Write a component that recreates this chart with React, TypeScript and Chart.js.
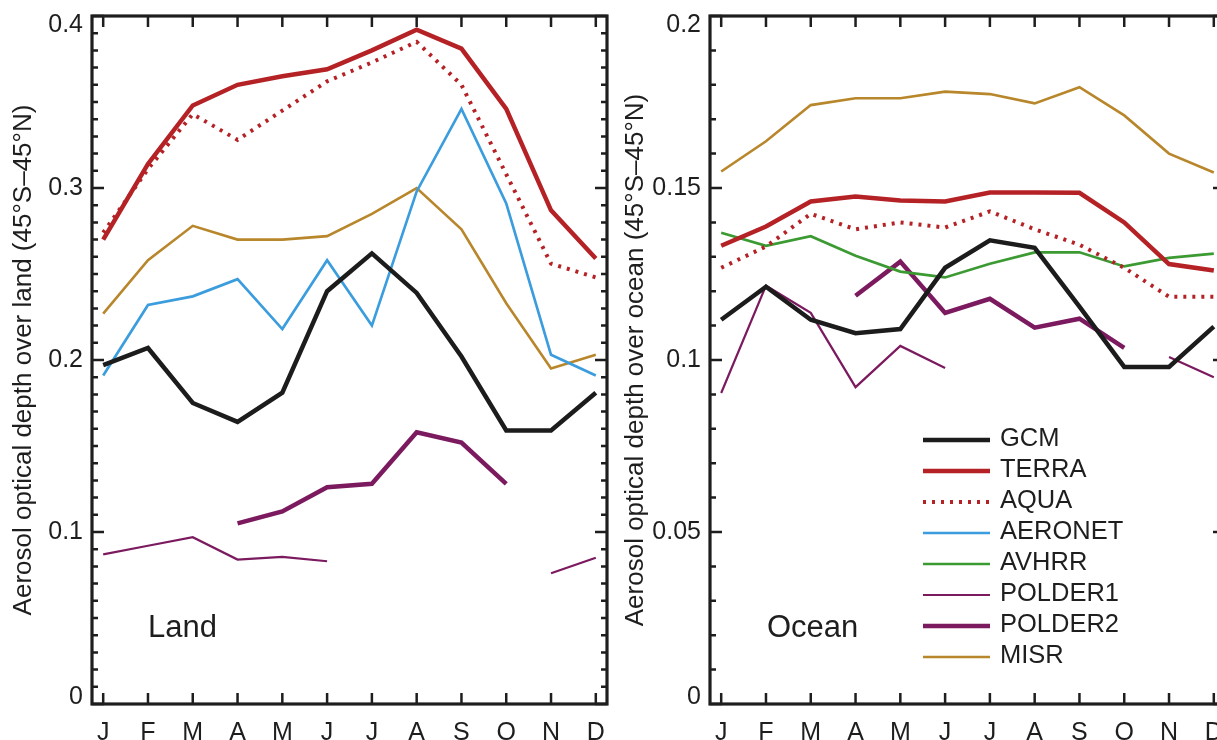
import React, { useEffect, useRef } from "react";
import { Chart, registerables } from "chart.js";

Chart.register(...registerables);

// ---------- data ----------
const months = ["J", "F", "M", "A", "M", "J", "J", "A", "S", "O", "N", "D"];

const seriesNames = ["GCM", "TERRA", "AQUA", "AERONET", "AVHRR", "POLDER1", "POLDER2", "MISR"];

// Land (45S-45N)
const landGCM = [0.197, 0.207, 0.175, 0.164, 0.181, 0.24, 0.262, 0.239, 0.202, 0.159, 0.159, 0.181];
const landTERRA = [0.27, 0.314, 0.348, 0.36, 0.365, 0.369, 0.38, 0.392, 0.381, 0.346, 0.287, 0.259];
const landAQUA = [0.274, 0.311, 0.343, 0.328, 0.345, 0.362, 0.373, 0.385, 0.36, 0.308, 0.256, 0.248];
const landAERONET = [0.191, 0.232, 0.237, 0.247, 0.218, 0.258, 0.22, 0.298, 0.346, 0.291, 0.203, 0.191];
const landPOLDER1 = [0.087, 0.092, 0.097, 0.084, 0.0855, 0.083, null, null, null, null, 0.076, 0.085];
const landPOLDER2 = [null, null, null, 0.105, 0.112, 0.126, 0.128, 0.158, 0.152, 0.128, null, null];
const landMISR = [0.227, 0.258, 0.278, 0.27, 0.27, 0.272, 0.285, 0.3, 0.276, 0.233, 0.195, 0.203];

// Ocean (45S-45N)
const oceanGCM = [0.1117, 0.1213, 0.1117, 0.1078, 0.109, 0.1268, 0.1348, 0.1326, 0.1155, 0.098, 0.098, 0.1097];
const oceanTERRA = [0.1332, 0.1388, 0.1461, 0.1475, 0.1464, 0.1461, 0.1487, 0.1487, 0.1486, 0.14, 0.1279, 0.126];
const oceanAQUA = [0.1268, 0.133, 0.1425, 0.138, 0.14, 0.1385, 0.1432, 0.138, 0.1335, 0.1268, 0.1184, 0.1184];
const oceanAVHRR = [0.137, 0.1332, 0.136, 0.1303, 0.1257, 0.124, 0.128, 0.1313, 0.1313, 0.1272, 0.1297, 0.1309];
const oceanPOLDER1 = [0.0904, 0.1216, 0.1137, 0.0921, 0.1041, 0.0977, null, null, null, null, 0.1009, 0.095];
const oceanPOLDER2 = [null, null, null, 0.1187, 0.1286, 0.1137, 0.1178, 0.1094, 0.112, 0.1035, null, null];
const oceanMISR = [0.1548, 0.1636, 0.1741, 0.1761, 0.1761, 0.178, 0.1773, 0.1746, 0.1793, 0.1711, 0.16, 0.1545];

// axis ticks
const landYTicks = [0, 0.1, 0.2, 0.3, 0.4];
const landYLabels = ["0", "0.1", "0.2", "0.3", "0.4"];
const oceanYTicks = [0, 0.05, 0.1, 0.15, 0.2];
const oceanYLabels = ["0", "0.05", "0.1", "0.15", "0.2"];

// ---------- styles ----------
const FONT = "'Liberation Sans', Arial, Helvetica, sans-serif";
const INK = "#1e1e1e";

const styleOf: Record<string, { color: string; width: number; dash?: number[] }> = {
  GCM: { color: "#1c1c1c", width: 4.5 },
  TERRA: { color: "#b52226", width: 4.5 },
  AQUA: { color: "#b52226", width: 4, dash: [3, 6] },
  AERONET: { color: "#3b9ddd", width: 2.7 },
  AVHRR: { color: "#3c9a33", width: 2.7 },
  POLDER1: { color: "#7b1a5e", width: 2.2 },
  POLDER2: { color: "#7b1a5e", width: 4.5 },
  MISR: { color: "#b8862b", width: 2.6 },
};

function makeDataset(name: string, values: (number | null)[]) {
  const s = styleOf[name];
  return {
    label: name,
    data: values.map((v, i) => ({ x: i, y: v })),
    borderColor: s.color,
    backgroundColor: s.color,
    borderWidth: s.width,
    borderDash: s.dash || [],
    borderCapStyle: "butt" as const,
    borderJoinStyle: "miter" as const,
    pointRadius: 0,
    tension: 0,
    fill: false,
    spanGaps: false,
  };
}

type PanelCfg = {
  yMax: number;
  yTicks: number[];
  yLabels: string[];
  minorStep: number;
  title: string;
  titleX: number;
  panelLabel: string;
  panelX: number;
  legend: boolean;
  legendOffset: number;
};

function makePanelPlugin(p: PanelCfg) {
  return {
    id: "panelDecor",
    afterDatasetsDraw(chart: any) {
      const { ctx, chartArea: a, scales } = chart;
      const xs = scales.x;
      const ys = scales.y;
      ctx.save();
      ctx.strokeStyle = INK;
      ctx.fillStyle = INK;
      ctx.lineCap = "butt";

      // inward ticks
      ctx.lineWidth = 2.5;
      ctx.beginPath();
      months.forEach((_, i) => {
        const px = xs.getPixelForValue(i);
        ctx.moveTo(px, a.top);
        ctx.lineTo(px, a.top + 11);
        ctx.moveTo(px, a.bottom);
        ctx.lineTo(px, a.bottom - 11);
      });
      const nMinor = Math.round(p.yMax / p.minorStep);
      for (let k = 0; k <= nMinor; k++) {
        const v = k * p.minorStep;
        const py = ys.getPixelForValue(v);
        const major = p.yTicks.some((t) => Math.abs(t - v) < 1e-9);
        const len = major ? 12 : 6;
        ctx.moveTo(a.left, py);
        ctx.lineTo(a.left + len, py);
        ctx.moveTo(a.right, py);
        ctx.lineTo(a.right - len, py);
      }
      ctx.stroke();

      // frame
      ctx.lineWidth = 3.2;
      ctx.strokeRect(a.left, a.top, a.right - a.left, a.bottom - a.top);

      // y tick labels
      ctx.font = `25px ${FONT}`;
      ctx.textAlign = "right";
      ctx.textBaseline = "middle";
      p.yTicks.forEach((t, i) => {
        let py = ys.getPixelForValue(t);
        py = Math.min(Math.max(py, a.top + 9), a.bottom - 7);
        ctx.fillText(p.yLabels[i], a.left - 9, py);
      });

      // x tick labels
      ctx.textAlign = "center";
      ctx.textBaseline = "alphabetic";
      months.forEach((m, i) => ctx.fillText(m, xs.getPixelForValue(i), 740));

      // axis title
      ctx.save();
      ctx.translate(p.titleX, (a.top + a.bottom) / 2);
      ctx.rotate(-Math.PI / 2);
      ctx.font = `26px ${FONT}`;
      ctx.textAlign = "center";
      ctx.textBaseline = "middle";
      ctx.fillText(p.title, 0, 0);
      ctx.restore();

      // panel label
      ctx.font = `31px ${FONT}`;
      ctx.textAlign = "left";
      ctx.textBaseline = "alphabetic";
      ctx.fillText(p.panelLabel, p.panelX, 637);

      // legend
      if (p.legend) {
        const x0 = 923 - p.legendOffset;
        const x1 = 990 - p.legendOffset;
        const tx = 1000 - p.legendOffset;
        ctx.font = `25.5px ${FONT}`;
        ctx.textBaseline = "middle";
        chart.data.datasets.forEach((ds: any, i: number) => {
          const y = 440 + i * 31;
          ctx.save();
          ctx.strokeStyle = ds.borderColor;
          ctx.lineWidth = ds.borderWidth;
          ctx.setLineDash(ds.borderDash || []);
          ctx.beginPath();
          ctx.moveTo(x0, y);
          ctx.lineTo(x1, y);
          ctx.stroke();
          ctx.restore();
          ctx.fillStyle = INK;
          ctx.fillText(ds.label, tx, y - 1);
        });
      }
      ctx.restore();
    },
  };
}

function makeConfig(datasets: any[], yMax: number, padLeft: number, padRight: number, panel: PanelCfg) {
  return {
    type: "line" as const,
    data: { datasets },
    options: {
      animation: false as const,
      responsive: false,
      devicePixelRatio: 1,
      events: [],
      layout: { padding: { left: padLeft, right: padRight, top: 16, bottom: 36 } },
      scales: {
        x: { type: "linear" as const, min: -0.25, max: 11.25, display: false },
        y: { type: "linear" as const, min: 0, max: yMax, display: false },
      },
      plugins: { legend: { display: false }, tooltip: { enabled: false } },
      elements: { point: { radius: 0 }, line: { tension: 0 } },
    },
    plugins: [makePanelPlugin(panel)],
  };
}

export default function App() {
  const leftRef = useRef<HTMLCanvasElement>(null);
  const rightRef = useRef<HTMLCanvasElement>(null);

  useEffect(() => {
    const landSets = [
      makeDataset("GCM", landGCM),
      makeDataset("TERRA", landTERRA),
      makeDataset("AQUA", landAQUA),
      makeDataset("AERONET", landAERONET),
      makeDataset("POLDER1", landPOLDER1),
      makeDataset("POLDER2", landPOLDER2),
      makeDataset("MISR", landMISR),
    ];
    const oceanSets = [
      makeDataset("GCM", oceanGCM),
      makeDataset("TERRA", oceanTERRA),
      makeDataset("AQUA", oceanAQUA),
      makeDataset("AVHRR", oceanAVHRR),
      makeDataset("POLDER1", oceanPOLDER1),
      makeDataset("POLDER2", oceanPOLDER2),
      makeDataset("MISR", oceanMISR),
    ];
    // legend order with AERONET placeholder style (not plotted over ocean)
    const legendOrder = seriesNames;
    const oceanLegendSets = legendOrder.map((n) => oceanSets.find((d) => d.label === n) || { ...makeDataset(n, months.map(() => null)) });

    const left = new Chart(
      leftRef.current!,
      makeConfig(landSets, 0.4, 92, 3, {
        yMax: 0.4,
        yTicks: landYTicks,
        yLabels: landYLabels,
        minorStep: 0.01,
        title: "Aerosol optical depth over land (45°S–45°N)",
        titleX: 24,
        panelLabel: "Land",
        panelX: 148,
        legend: false,
        legendOffset: 0,
      }) as any
    );
    const right = new Chart(
      rightRef.current!,
      makeConfig(oceanLegendSets, 0.2, 100, 5, {
        yMax: 0.2,
        yTicks: oceanYTicks,
        yLabels: oceanYLabels,
        minorStep: 0.01,
        title: "Aerosol optical depth over ocean (45°S–45°N)",
        titleX: 26,
        panelLabel: "Ocean",
        panelX: 767 - 610,
        legend: true,
        legendOffset: 610,
      }) as any
    );
    return () => {
      left.destroy();
      right.destroy();
    };
  }, []);

  return (
    <div
      style={{
        position: "fixed",
        left: 0,
        top: 0,
        width: 1217,
        height: 740,
        overflow: "hidden",
        background: "#fff",
      }}
    >
      <canvas
        ref={leftRef}
        width={610}
        height={740}
        style={{ position: "absolute", left: 0, top: 0, width: 610, height: 740 }}
      />
      <canvas
        ref={rightRef}
        width={620}
        height={740}
        style={{ position: "absolute", left: 610, top: 0, width: 620, height: 740 }}
      />
    </div>
  );
}
